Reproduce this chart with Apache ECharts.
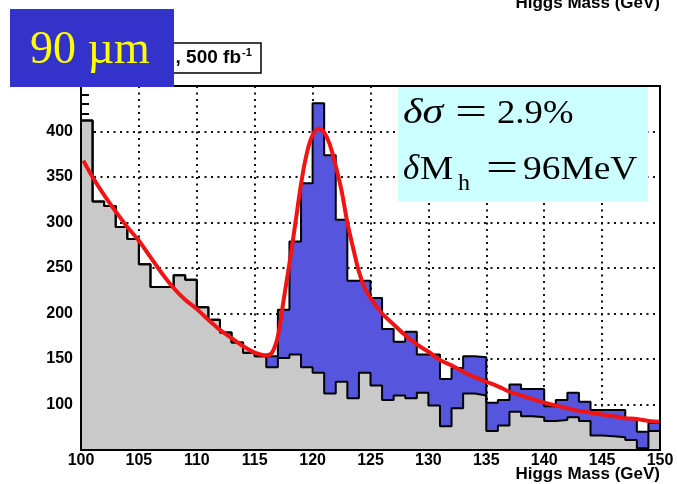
<!DOCTYPE html>
<html>
<head>
<meta charset="utf-8">
<script src="https://cdn.jsdelivr.net/npm/echarts@6/dist/echarts.min.js"></script>
<style>
  html, body { margin: 0; padding: 0; background: #fff; }
  #chart { width: 677px; height: 484px; }
</style>
</head>
<body>
<div id="chart"></div>
<script>
// Higgs recoil-mass spectrum, 1 GeV bins from 100 to 150 GeV
const massMin = 100;
const massMax = 150;
const binWidth = 1;

// Background-only counts per bin (grey)
const backgroundCounts = [
  412, 323, 318, 295, 282, 254, 229, 229, 242, 237,
  207, 193, 179, 168, 157, 153, 141, 151, 155, 141,
  135, 112, 125, 107, 135, 121, 105, 110, 107, 113,
  99, 76, 96, 112, 110, 71, 77, 92, 87, 86,
  82, 83, 86, 82, 66, 65, 64, 61, 52, 71
];

// Signal + background counts per bin (blue excess above grey)
const totalCounts = [
  412, 323, 318, 295, 282, 254, 229, 229, 242, 237,
  207, 193, 179, 168, 157, 153, 153, 204, 279, 343,
  431, 374, 303, 236, 236, 217, 183, 169, 180, 155,
  155, 128, 140, 153, 152, 102, 105, 122, 117, 117,
  98, 105, 113, 103, 94, 94, 94, 84, 70, 80
];

// Fitted curve (mass in GeV, counts)
const fitMass = [
  100.2, 101, 102, 103, 104, 105, 106, 107, 108, 109,
  110, 111, 112, 113, 114, 115, 115.5, 116, 116.5, 117,
  117.5, 118, 118.5, 119, 119.5, 120, 120.5, 121, 121.5, 122,
  122.5, 123, 123.5, 124, 124.5, 125, 126, 127, 128, 129,
  130, 131, 132, 133, 134, 135, 136, 137, 138, 139,
  140, 141, 142, 143, 144, 145, 146, 147, 148, 149, 150
];
const fitValue = [
  368, 350, 330, 312, 295, 280, 262, 244, 228, 215,
  205, 193, 182, 173, 164, 157, 155, 154, 157, 175,
  215, 255, 298, 342, 376, 396, 403, 399, 385, 362,
  335, 300, 272, 246, 228, 217, 200, 188, 176, 166,
  158, 149, 143, 136, 130, 125, 120, 114, 110, 106,
  102, 99, 96, 93, 91, 89, 87, 85, 84, 82, 81
];

// Tick labels
const xTickValues = [100, 105, 110, 115, 120, 125, 130, 135, 140, 145, 150];
const yTickValues = [100, 150, 200, 250, 300, 350, 400];

// Histogram as step outline: one point per lower bin edge plus the closing edge
function stepPoints(counts) {
  const pts = counts.map((c, i) => [massMin + i * binWidth, c]);
  pts.push([massMax, counts[counts.length - 1]]);
  return pts;
}

const sans = '"Liberation Sans", Arial, Helvetica, sans-serif';
const serif = '"Liberation Serif", "Times New Roman", serif';
const dotted = { type: [2, 4.5], width: 2, color: '#111' };

function txt(text, x, y, font, fill, align, extra) {
  return Object.assign({
    type: 'text', x: x, y: y, z: 50,
    style: {
      text: text, font: font, fill: fill,
      textAlign: align || 'left', align: align || 'left',
      textVerticalAlign: 'top', verticalAlign: 'top'
    }
  }, extra || {});
}

const chart = echarts.init(document.getElementById('chart'), null, { renderer: 'canvas' });

chart.setOption({
  animation: false,
  backgroundColor: '#ffffff',
  grid: { left: 81, right: 17, top: 86, bottom: 34 },
  xAxis: {
    type: 'value', min: massMin, max: massMax, interval: 5,
    axisLine: { show: false },
    axisTick: { show: false },
    axisLabel: {
      color: '#000', fontFamily: sans, fontWeight: 'bold', fontSize: 16, margin: 3,
      formatter: v => xTickValues.includes(v) ? String(v) : ''
    },
    splitLine: { show: true, lineStyle: dotted }
  },
  yAxis: {
    type: 'value', min: 50, max: 450, interval: 50,
    axisLine: { show: false },
    axisTick: { show: true, inside: true, length: 14, lineStyle: { color: '#000', width: 2 } },
    minorTick: { show: true, splitNumber: 5, length: 8, lineStyle: { color: '#000', width: 2 } },
    axisLabel: {
      color: '#000', fontFamily: sans, fontWeight: 'bold', fontSize: 16, margin: 8,
      formatter: v => yTickValues.includes(v) ? String(v) : ''
    },
    splitLine: { show: true, lineStyle: dotted }
  },
  series: [
    {
      name: 'signal+background', type: 'line', step: 'end', symbol: 'none', z: 2,
      data: stepPoints(totalCounts),
      lineStyle: { width: 0 },
      areaStyle: { color: '#5555dd', opacity: 1, origin: 'start' }
    },
    {
      name: 'background', type: 'line', step: 'end', symbol: 'none', z: 3,
      data: stepPoints(backgroundCounts),
      lineStyle: { width: 0 },
      areaStyle: { color: '#c9c9c9', opacity: 1, origin: 'start' }
    },
    {
      name: 'background outline', type: 'line', step: 'end', symbol: 'none', z: 4,
      data: stepPoints(backgroundCounts),
      lineStyle: { color: '#000', width: 2 }
    },
    {
      name: 'total outline', type: 'line', step: 'end', symbol: 'none', z: 4,
      data: stepPoints(totalCounts),
      lineStyle: { color: '#000', width: 2 }
    },
    {
      name: 'fit', type: 'line', smooth: 0.4, symbol: 'none', z: 5,
      data: fitMass.map((m, i) => [m, fitValue[i]]),
      lineStyle: { color: '#f01414', width: 4 }
    }
  ],
  graphic: [
    // result box
    { type: 'rect', z: 10, shape: { x: 398, y: 86, width: 250, height: 115 }, style: { fill: '#ccffff' } },
    txt('δσ', 403, 96, 'italic 35px ' + serif, '#000', 'left', { z: 11, scaleX: 1.2 }),
    txt('=', 471, 95, '38px ' + serif, '#000', 'center', { z: 11, scaleX: 1.5 }),
    txt('2.9%', 497, 97, '34px ' + serif, '#000', 'left', { z: 11, scaleX: 1.08 }),
    txt('δ', 403, 152, 'italic 35px ' + serif, '#000', 'left', { z: 11 }),
    txt('M', 420, 153, '34px ' + serif, '#000', 'left', { z: 11, scaleX: 1.1 }),
    txt('h', 458, 172, '24px ' + serif, '#000', 'left', { z: 11 }),
    txt('=', 502, 151, '38px ' + serif, '#000', 'center', { z: 11, scaleX: 1.5 }),
    txt('96MeV', 523, 153, '34px ' + serif, '#000', 'left', { z: 11, scaleX: 1.1 }),
    // plot frame
    { type: 'rect', z: 20, shape: { x: 81, y: 86, width: 579, height: 364 }, style: { fill: null, stroke: '#000', lineWidth: 2 } },
    // axis titles
    txt('Higgs Mass (GeV)', 660, 466, 'bold 17px ' + sans, '#000', 'right'),
    txt('Higgs Mass (GeV)', 660, -5, 'bold 17px ' + sans, '#000', 'right'),
    // luminosity label box
    { type: 'rect', z: 30, shape: { x: 140, y: 43, width: 121, height: 30 }, style: { fill: '#fff', stroke: '#000', lineWidth: 1.5 } },
    txt(', 500 fb', 241, 48, 'bold 19px ' + sans, '#000', 'right', { z: 31 }),
    txt('-1', 242, 47, 'bold 11px ' + sans, '#000', 'left', { z: 31 }),
    // resolution tag
    { type: 'rect', z: 40, shape: { x: 10, y: 9, width: 164, height: 78 }, style: { fill: '#3333cc' } },
    txt('90 µm', 30, 28, '46px ' + serif, '#ffff00', 'left', { z: 41 })
  ]
});
</script>
</body>
</html>
